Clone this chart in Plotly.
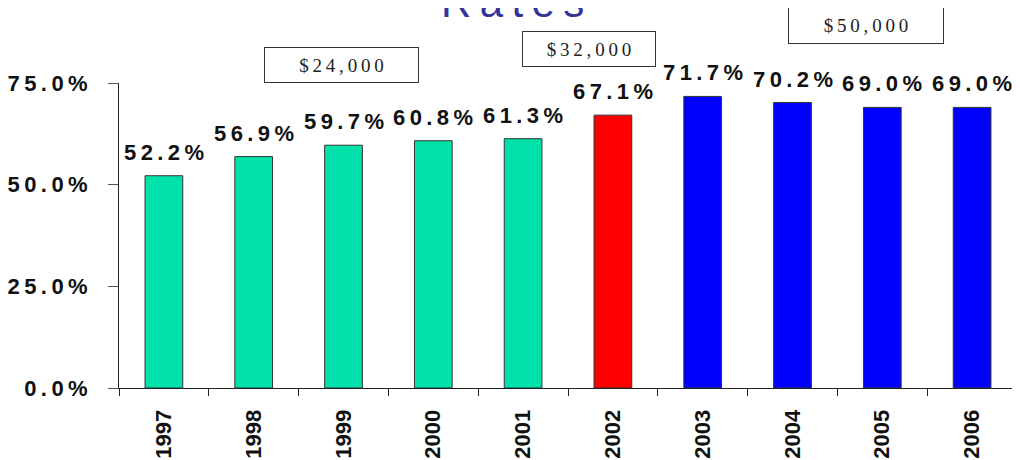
import plotly.graph_objects as go

# data
years = ['1997', '1998', '1999', '2000', '2001', '2002', '2003', '2004', '2005', '2006']
rates = [0.522, 0.569, 0.597, 0.608, 0.613, 0.671, 0.717, 0.702, 0.690, 0.690]
thresholds = ['$24,000', '$32,000', '$50,000']
y_ticks = [0, 0.25, 0.5, 0.75]

# colours by period
bar_colors = ['#00E2A9'] * 5 + ['#FF0000'] + ['#0000FF'] * 4

THIN = '\u2009'


def spaced(s):
    return THIN.join(s)


# page has an 8px body margin, so the figure is made smaller and
# all pixel positions below are page pixels shifted by OFF
OFF = 8
W, H = 1020 - OFF, 460 - OFF
# plot area in page pixels: x 119..1017, y 83..388
L, R, T, B = 119, 1017, 83, 388


def px(x):
    return (x - L) / (R - L)


def py(y):
    return (B - y) / (B - T)


bold = dict(family='Liberation Sans', size=22, color='#111111', weight='bold')

fig = go.Figure(go.Bar(
    x=years, y=rates,
    marker=dict(color=bar_colors, line=dict(color='#333333', width=1)),
    hoverinfo='x+y',
))

# value labels above bars
for i, v in enumerate(rates):
    fig.add_annotation(
        x=i, y=v, text=spaced(f'{v:.1%}'), showarrow=False,
        yanchor='bottom', yshift=9, font=bold,
    )

# threshold boxes: (text, centre x, centre y, w, h)
boxes = [
    (thresholds[0], 341.5, 65, 155, 36),
    (thresholds[1], 589, 49, 134, 36),
    (thresholds[2], 866, 25.5, 156, 37),
]
for txt, cx, cy, w, h in boxes:
    fig.add_annotation(
        xref='paper', yref='paper', x=px(cx), y=py(cy),
        text=spaced(txt), showarrow=False,
        xanchor='center', yanchor='middle',
        width=w - 2, height=h - 2, borderpad=0,
        bordercolor='#333333', borderwidth=1, bgcolor='white',
        font=dict(family='Liberation Serif', size=19, color='#222222'),
    )

# title, partly cut off at the top
fig.add_annotation(
    xref='paper', yref='paper', x=px(512), y=py(28),
    text=spaced('Rates'), showarrow=False,
    xanchor='center', yanchor='bottom',
    font=dict(family='Liberation Sans', size=42, color='#333399'),
)

fig.update_layout(
    width=W, height=H,
    margin=dict(l=L - OFF, r=1020 - R, t=T - OFF, b=460 - B, pad=0),
    plot_bgcolor='white', paper_bgcolor='white',
    showlegend=False,
    bargap=0.58,
)
fig.update_xaxes(
    type='category', range=[-0.5, 9.5], automargin=False,
    showline=True, linecolor='#222222', linewidth=1,
    ticks='outside', ticklen=7, tickcolor='#222222', tickson='boundaries',
    tickangle=-90, ticklabelstandoff=12,
    tickfont=dict(family='Liberation Sans', size=22, color='#111111', weight='bold'),
    showgrid=False,
)
fig.update_yaxes(
    range=[0, 0.75], tickvals=y_ticks,
    ticktext=[spaced(f'{t:.1%}') for t in y_ticks], automargin=False,
    showline=True, linecolor='#222222', linewidth=1,
    ticks='outside', ticklen=10, tickcolor='#555555',
    ticklabelstandoff=16, tickfont=bold,
    showgrid=False, zeroline=False,
)

fig.write_html('out.html')
